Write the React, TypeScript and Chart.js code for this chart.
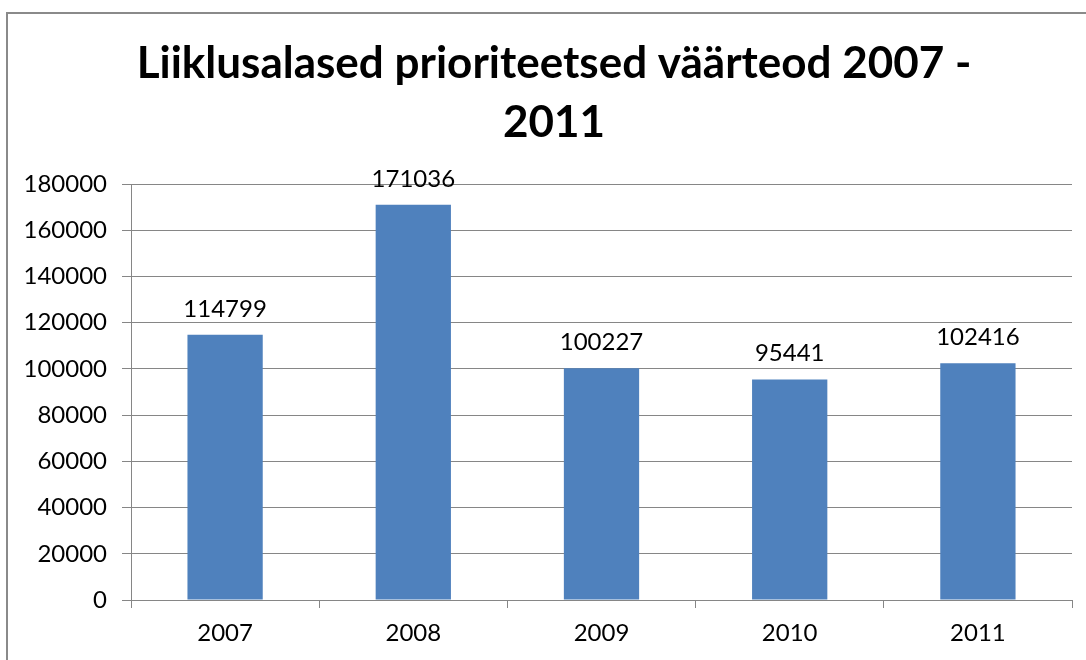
import React, { useEffect, useRef } from "react";
import { Chart, registerables } from "chart.js";

Chart.register(...registerables);

const categories = ["2007", "2008", "2009", "2010", "2011"];
const values = [114799, 171036, 100227, 95441, 102416];
const titleLines = ["Liiklusalased prioriteetsed väärteod 2007 -", "2011"];
const yMin = 0;
const yMax = 180000;
const yStep = 20000;

const FONT = "Lato, 'Open Sans', sans-serif";

const labelPlugin = {
  id: "barLabels",
  afterLayout(chart: any) {
    // Excel centres the title on the full chart frame, which runs past the right edge
    if (chart.titleBlock) {
      chart.titleBlock.left = 36;
    }
  },
  afterDatasetsDraw(chart: any) {
    const ctx = chart.ctx;
    const meta = chart.getDatasetMeta(0);
    ctx.save();
    ctx.font = `24px ${FONT}`;
    ctx.fillStyle = "#000";
    ctx.textAlign = "center";
    ctx.textBaseline = "alphabetic";
    meta.data.forEach((el: any, i: number) => {
      ctx.fillText(String(values[i]), el.x, el.y - 18);
    });
    ctx.restore();
  },
};

export default function App() {
  const ref = useRef<HTMLCanvasElement>(null);
  useEffect(() => {
    if (!ref.current) return;
    const chart = new Chart(ref.current, {
      type: "bar",
      data: {
        labels: categories,
        datasets: [
          {
            data: values,
            backgroundColor: "#4F81BD",
            borderWidth: 0,
            categoryPercentage: 1,
            barPercentage: 0.4,
          },
        ],
      },
      options: {
        animation: false,
        responsive: true,
        maintainAspectRatio: false,
        layout: { padding: { left: 0, right: 14, top: 0, bottom: 0 } },
        plugins: {
          legend: { display: false },
          tooltip: { enabled: false },
          title: {
            display: true,
            text: titleLines,
            color: "#000",
            font: { family: FONT, size: 44, weight: "bold", lineHeight: 59 / 44 },
            padding: { top: 34, bottom: 32 },
          },
        },
        scales: {
          x: {
            grid: {
              display: true,
              drawOnChartArea: false,
              drawTicks: true,
              tickLength: 8,
              color: "#868686",
              offset: true,
            },
            border: { display: true, color: "#868686", width: 1 },
            ticks: { color: "#000", font: { family: FONT, size: 24 }, padding: 11 },
            afterFit: (s: any) => {
              s.height = 60;
            },
          },
          y: {
            min: yMin,
            max: yMax,
            grid: { color: "#868686", tickLength: 9, drawTicks: true },
            border: { display: true, color: "#868686", width: 1 },
            ticks: {
              stepSize: yStep,
              color: "#000",
              font: { family: FONT, size: 24 },
              padding: 15,
              callback: (v: any) => String(v),
            },
            afterFit: (s: any) => {
              s.width = 131;
            },
          },
        },
      },
      plugins: [labelPlugin],
    });
    return () => chart.destroy();
  }, []);

  return (
    <div
      style={{
        position: "fixed",
        left: 0,
        top: 0,
        width: 1086,
        height: 660,
        overflow: "hidden",
        background: "#fff",
      }}
    >
      <div
        style={{
          position: "absolute",
          left: 6,
          top: 12,
          width: 1200,
          height: 800,
          border: "2px solid #8a8a8a",
        }}
      />
      <div style={{ position: "absolute", left: 0, top: 0, width: 1086, height: 660 }}>
        <canvas ref={ref} />
      </div>
    </div>
  );
}
